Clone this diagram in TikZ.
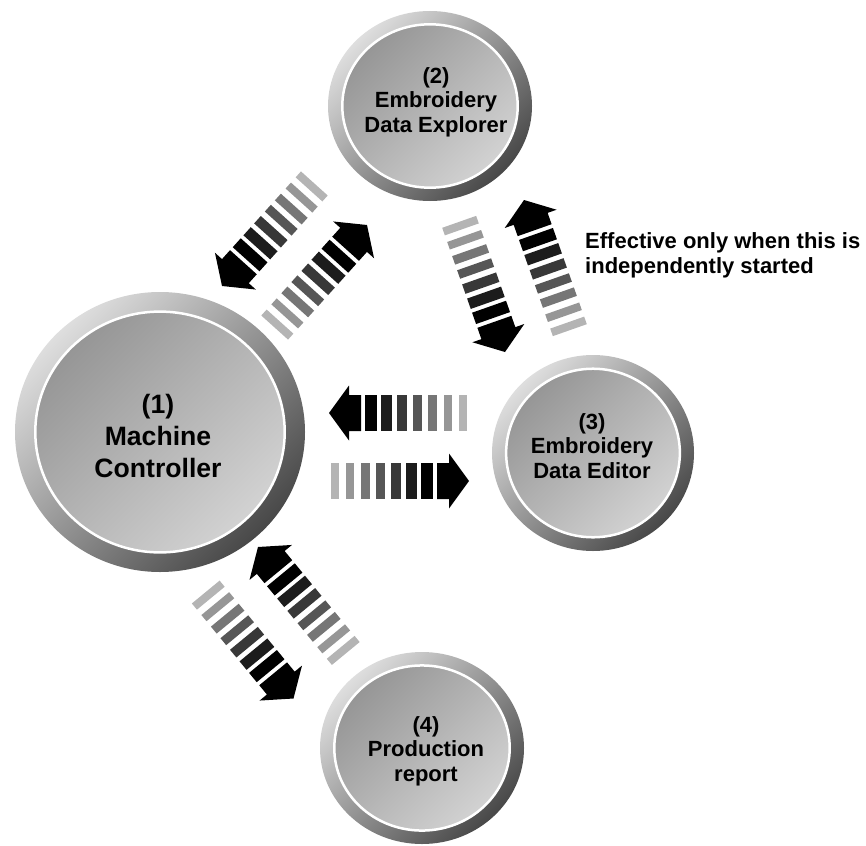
\documentclass[tikz,border=0pt]{standalone}
\usepackage{fontspec}
\setmainfont{Liberation Sans}
\definecolor{ringlight}{HTML}{DEDEDE}
\definecolor{ringdark}{HTML}{484848}
\definecolor{disklight}{HTML}{D2D2D2}
\definecolor{diskdark}{HTML}{969696}
\definecolor{barA}{HTML}{000000}
\definecolor{barB}{HTML}{1C1C1C}
\definecolor{barC}{HTML}{383838}
\definecolor{barD}{HTML}{565656}
\definecolor{barE}{HTML}{767676}
\definecolor{barF}{HTML}{969696}
\definecolor{barG}{HTML}{B4B4B4}
\newcommand\discdraw[4]{%
  \shade[top color=ringlight, bottom color=ringdark, shading angle=45] (#1,#2) ellipse [x radius=#3, y radius=#4];
  \shade[top color=diskdark, bottom color=disklight, shading angle=45] (#1,#2) ellipse [x radius=0.86*#3, y radius=0.86*#4];
  \draw[white, line width=2.5] (#1,#2) ellipse [x radius=0.86*#3, y radius=0.86*#4];
}
\tikzset{
  lblbig/.style={font=\fontsize{26.6}{32}\selectfont\bfseries, align=center, inner sep=0},
  lblsmall/.style={font=\fontsize{22}{24.5}\selectfont\bfseries, align=center, inner sep=0},
  notetext/.style={font=\fontsize{22}{25}\selectfont\bfseries, align=left, inner sep=0},
  pics/flowarrow/.style={code={
    \fill[barA] (0,0) -- (-20,27.5) -- (-20,18) -- (-32,18) -- (-32,-18) -- (-20,-18) -- (-20,-27.5) -- cycle;
    \fill[barA] (-48,-18) rectangle (-36,18);
    \fill[barB] (-63,-18) rectangle (-52,18);
    \fill[barC] (-78,-18) rectangle (-68,18);
    \fill[barD] (-93,-18) rectangle (-84,18);
    \fill[barE] (-108,-18) rectangle (-99,18);
    \fill[barF] (-123,-18) rectangle (-115,18);
    \fill[barG] (-138,-18) rectangle (-130,18);
  }}
}
\begin{document}
\begin{tikzpicture}[x=1pt,y=1pt]
\useasboundingbox (0,0) rectangle (866,-845);
% discs
\discdraw{160}{-432}{145}{140}
\discdraw{430}{-106}{102}{95}
\discdraw{593}{-453}{101}{98}
\discdraw{422}{-748}{102}{96}
% labels
\node[lblbig] (mc) at (158,-436) {(1)\\Machine\\Controller};
\node[lblsmall] (dx) at (436,-102) {(2)\\Embroidery\\Data Explorer};
\node[lblsmall] (de) at (592,-446) {(3)\\Embroidery\\Data Editor};
\node[lblsmall] (pr) at (426,-751) {(4)\\Production\\report};
\node[notetext, anchor=north west] (note) at (585,-232) {Effective only when this is\\independently started};
% arrow tips
\coordinate (tA) at (222,-286);
\coordinate (tB) at (367,-225);
\coordinate (tC) at (505,-352);
\coordinate (tD) at (524,-200);
\coordinate (tH1) at (329,-413);
\coordinate (tH2) at (469,-481);
\coordinate (tE) at (258,-547);
\coordinate (tF) at (293.5,-698.5);
\path (tA) pic[rotate=228] {flowarrow};
\path (tB) pic[rotate=48] {flowarrow};
\path (tC) pic[rotate=289.4] {flowarrow};
\path (tD) pic[rotate=109.4] {flowarrow};
\path (tH1) pic[rotate=180] {flowarrow};
\path (tH2) pic[rotate=0] {flowarrow};
\path (tE) pic[rotate=129.5] {flowarrow};
\path (tF) pic[rotate=309.5] {flowarrow};
\end{tikzpicture}
\end{document}
